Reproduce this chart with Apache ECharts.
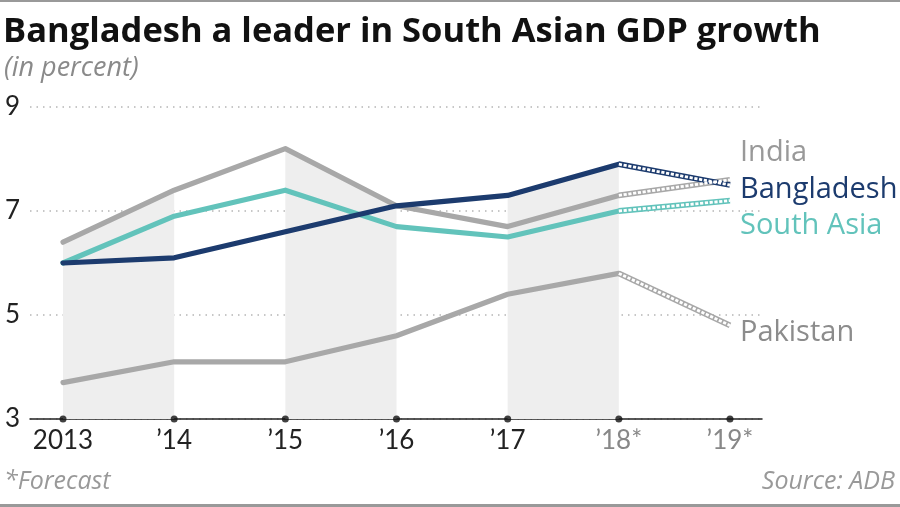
<!DOCTYPE html>
<html><head><meta charset="utf-8">
<script src="https://cdn.jsdelivr.net/npm/echarts@6/dist/echarts.min.js"></script>
<style>html,body{margin:0;padding:0;background:#fff}#c{width:900px;height:507px}</style>
</head><body><div id="c"></div>
<script>
const categories = ['2013', '\u201914', '\u201915', '\u201916', '\u201917', '\u201918*', '\u201919*'];
const india = [6.4, 7.4, 8.2, 7.1, 6.7, 7.3, 7.6];
const bangladesh = [6.0, 6.1, 6.6, 7.1, 7.3, 7.9, 7.5];
const southAsia = [6.0, 6.9, 7.4, 6.7, 6.5, 7.0, 7.2];
const pakistan = [3.7, 4.1, 4.1, 4.6, 5.4, 5.8, 4.8];
const yTicks = [3, 5, 7, 9];
const forecastStart = 5;

const FONT = 'Lato';
const WFONT = '"Open Sans"';
const NAVY = '#1c3b6e', TEAL = '#62c3bb', GRAY = '#a8a8a8';
const all = [india, bangladesh, southAsia, pakistan];
const maxAt = i => Math.max(...all.map(a => a[i]));

function pts(arr, from, to) { const r = []; for (let i = from; i <= to; i++) r.push([i, arr[i]]); return r; }

const series = [];
[[0,1],[2,3],[4,5]].forEach(([a,b]) => {
  series.push({type:'line', data:[[a,maxAt(a)],[b,maxAt(b)]], symbol:'none', silent:true,
    lineStyle:{width:0}, areaStyle:{color:'#eeeeee', opacity:1, origin:'start'}, z:1});
});
function addLine(arr, color) {
  series.push({type:'line', data:pts(arr,0,forecastStart), symbol:'none', lineStyle:{color, width:5.2, cap:'round', join:'round'}, z:3});
  series.push({type:'line', data:pts(arr,forecastStart,arr.length-1), symbol:'none', lineStyle:{color, width:5.8, join:'round'}, z:3});
  series.push({type:'line', data:pts(arr,forecastStart,arr.length-1), symbol:'none', lineStyle:{color:'#fff', width:2.8, type:[3.2,1.6]}, z:4});
}
addLine(pakistan, GRAY);
addLine(india, GRAY);
addLine(southAsia, TEAL);
addLine(bangladesh, NAVY);
series.push({type:'scatter', data:categories.map((c,i)=>[i,3]), symbol:'circle', symbolSize:7, itemStyle:{color:'#111'}, clip:false, z:6, silent:true});

const chart = echarts.init(document.getElementById('c'), null, {renderer:'canvas'});
chart.setOption({
  backgroundColor:'#fff',
  animation:false,
  grid:{left:30, right:138, top:107, bottom:88, containLabel:false},
  xAxis:{type:'value', min:-0.297, max:6.288,
    axisLine:{show:true, onZero:false, lineStyle:{color:'#222', width:1.5}},
    axisTick:{show:false},
    splitLine:{show:false},
    axisLabel:{customValues:categories.map((c,i)=>i), formatter:v=>categories[Math.round(v)]||'', margin:9,
      fontFamily:FONT, fontSize:26, color:(v)=> (Math.round(v)>=forecastStart ? '#888' : '#222')}
  },
  yAxis:{type:'value', min:3, max:9, interval:2,
    axisLine:{show:false}, axisTick:{show:false},
    axisLabel:{fontFamily:FONT, fontSize:26, color:'#222', margin:10, formatter:v=>yTicks.includes(v)?String(v):''},
    splitLine:{show:true, lineStyle:{color:'#b5b5b5', type:[1.5,5], width:1.5}}
  },
  series,
  graphic:[
    {type:'rect', shape:{x:0,y:0,width:900,height:2}, style:{fill:'#999'}},
    {type:'rect', shape:{x:0,y:504,width:900,height:3}, style:{fill:'#999'}},
    {type:'text', left:3, top:15, style:{text:'Bangladesh a leader in South Asian GDP growth', font:'bold 34.5px '+WFONT, fill:'#111'}},
    {type:'text', left:4, top:55, style:{text:'(in percent)', font:'italic 27px '+WFONT, fill:'#8a8a8a', letterSpacing:0.8}},
    {type:'text', left:740, top:138, style:{text:'India', font:'29px '+WFONT, fill:'#999'}},
    {type:'text', left:740, top:175, style:{text:'Bangladesh', font:'29px '+WFONT, fill:NAVY}},
    {type:'text', left:740, top:211, style:{text:'South Asia', font:'29px '+WFONT, fill:TEAL}},
    {type:'text', left:740, top:318, style:{text:'Pakistan', font:'29px '+WFONT, fill:'#8c8c8c'}},
    {type:'text', left:4, top:469, style:{text:'*Forecast', font:'italic 25px '+WFONT, fill:'#999'}},
    {type:'text', right:5, top:469, style:{text:'Source: ADB', font:'italic 25px '+WFONT, fill:'#999', letterSpacing:0.6}}
  ]
});
</script></body></html>
